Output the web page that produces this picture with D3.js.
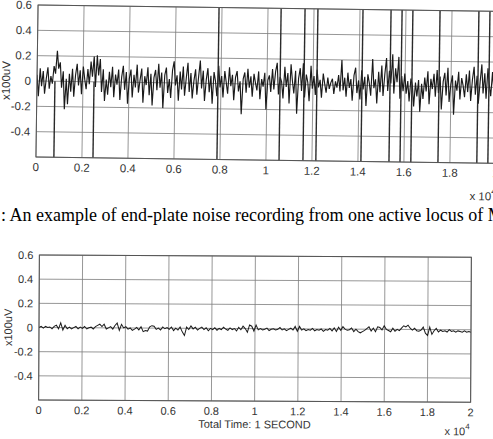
<!DOCTYPE html>
<html>
<head>
<meta charset="utf-8">
<script src="https://cdn.jsdelivr.net/npm/d3@7"></script>
<style>
  body { margin: 0; background: #fff; }
  svg { display: block; }
  text { font-family: "Liberation Sans", Arial, sans-serif; fill: #333; }
</style>
</head>
<body>
<svg id="chart" width="493" height="439"></svg>
<script>
// tick labels (x in units of 1e4 samples)
const xTicks = [0, 0.2, 0.4, 0.6, 0.8, 1, 1.2, 1.4, 1.6, 1.8, 2];
const yTicks = [-0.6, -0.4, -0.2, 0, 0.2, 0.4, 0.6];

// top recording: noise trace (x100uV), evenly spaced over 0..2 x1e4
const noiseTop = [
  0.05,-0.12,0.1,-0.04,0.08,-0.1,0.02,0.11,-0.06,0.04,-0.02,0.12,0.06,0.24,0.1,0.15,-0.05,0.08,-0.22,0.02,
  -0.18,0.06,-0.08,0.1,-0.12,0.05,0.14,-0.03,0.09,-0.1,0.12,0.02,-0.06,0.1,-0.02,0.16,0.04,0.2,-0.04,0.21,
  0.05,0.18,-0.08,0.1,-0.15,0.02,-0.1,0.08,-0.04,0.12,-0.12,0.06,-0.02,0.1,-0.14,0.04,0.13,-0.06,0.08,-0.17,
  0.03,0.1,-0.12,0.06,-0.04,0.14,-0.08,0.02,0.11,-0.16,0.05,-0.02,0.12,-0.1,0.07,-0.18,0.04,0.1,-0.06,0.15,
  -0.04,0.08,-0.2,0.06,0.12,-0.08,0.03,-0.12,0.1,0.17,-0.02,0.06,-0.14,0.09,-0.05,0.13,-0.1,0.04,0.16,-0.07,
  0.08,-0.12,0.02,0.11,-0.09,0.05,0.18,-0.04,0.1,-0.14,0.03,0.12,-0.07,0.06,-0.16,0.09,0.02,-0.1,0.14,-0.03,
  0.06,-0.11,0.1,0.01,-0.08,0.13,-0.02,0.07,-0.13,0.05,0.1,-0.06,0.02,-0.24,0.04,0.09,-0.07,0.12,-0.03,0.06,
  -0.1,0.08,0.01,-0.05,0.1,-0.12,0.04,-0.02,0.09,-0.2,0.03,0.07,-0.06,0.12,-0.04,0.1,0.17,-0.08,0.06,0.02,
  -0.11,0.14,-0.02,0.09,-0.15,0.16,0.03,-0.07,0.11,-0.23,0.05,0.13,-0.05,0.17,-0.1,0.08,0.02,-0.13,0.15,-0.03,
  0.07,-0.08,0.12,-0.02,0.04,-0.1,0.09,0.01,-0.06,0.06,-0.03,0.02,0.05,-0.07,0.03,-0.02,0.08,-0.05,0.2,-0.04,
  0.06,-0.09,0.1,-0.02,0.05,-0.12,0.08,0.14,-0.06,0.04,-0.11,0.12,-0.03,0.07,-0.16,0.09,0.02,-0.08,0.21,-0.02,
  0.05,-0.14,0.11,-0.05,0.16,-0.08,0.09,0.22,-0.04,0.12,0.02,0.25,-0.06,0.14,0.03,0.23,-0.1,0.08,-0.04,0.1,
  -0.06,0.04,-0.12,0.06,0.01,-0.16,0.03,-0.08,0.05,-0.2,0.02,-0.1,0.07,-0.04,0.12,-0.14,0.06,-0.02,0.1,-0.08,
  0.13,-0.05,0.08,-0.18,0.04,0.11,-0.07,0.15,-0.12,0.02,0.09,-0.22,0.05,-0.03,0.12,-0.1,0.07,0.01,-0.08,0.1,
  -0.04,0.13,-0.11,0.06,0.16,-0.06,0.09,-0.13,0.04,0.18,-0.05,0.11,-0.09,0.15,0.02,-0.07,0.12,-0.03,0.08,0.04
];

// top recording: large artefact spikes (position, upper and lower extent)
const spikeAt = [0.078, 0.248, 0.787, 1.057, 1.161, 1.217, 1.413, 1.535, 1.583, 1.630, 1.748, 1.917, 1.965];
const spikeHi = [0, 0, 0.9, 0.9, 0.9, 0.9, 0.9, 0.9, 0.9, 0.9, 0.9, 0.9, 0.9];
const spikeLo = [-0.9, -0.9, -0.9, -0.9, -0.9, -0.9, -0.9, -0.9, -0.9, -0.9, -0.9, -0.9, -0.9];

// bottom recording: quiet trace
const noiseBottom = [
  0,0.01,-0.005,0.01,0,0.005,-0.01,0.01,0.02,-0.01,0.04,-0.02,0.02,-0.01,0.005,-0.01,0,0.01,-0.01,0.005,
  -0.005,0.01,-0.01,0,0.005,-0.01,0.01,0.02,0.03,0.01,0.03,-0.01,0,0.01,-0.01,0.02,0.04,-0.02,0.03,0,
  0.01,-0.01,0,-0.02,-0.01,0.005,-0.015,0.01,-0.03,-0.02,-0.025,0.01,0.02,0.015,-0.01,0,-0.015,0.01,-0.005,0.005,
  -0.01,0.01,-0.02,0,-0.015,0.01,-0.03,-0.06,0.01,-0.01,0.02,-0.005,0.01,-0.015,0,0.01,-0.01,0.005,-0.02,0,
  -0.01,0.005,-0.015,0,-0.01,0.01,-0.005,-0.015,0.005,-0.01,0,-0.02,0.01,-0.01,0.02,0,-0.03,0.03,0.02,-0.02,
  0.03,-0.01,0,-0.01,-0.005,0.005,-0.015,-0.005,0,-0.01,-0.005,0.01,-0.01,0,-0.015,-0.005,0.005,-0.01,0.02,-0.02,
  0.02,-0.01,0,-0.015,-0.005,-0.01,0.005,-0.015,-0.005,-0.01,0,-0.02,-0.005,-0.01,0.005,-0.015,0.01,-0.02,0.015,-0.01,
  0.02,0,-0.01,-0.005,0.01,-0.02,0,-0.02,-0.03,-0.02,-0.01,0.005,0.02,-0.015,0.01,-0.02,0.02,0.015,-0.005,0.03,
  0,-0.01,-0.02,0.01,-0.015,0,-0.01,0.01,0.03,0.02,0.035,0.01,-0.005,0.01,-0.01,-0.015,-0.005,0.02,-0.03,-0.05,
  0.02,-0.04,-0.01,0.01,-0.02,-0.005,-0.015,-0.01,-0.02,0,-0.015,-0.01,-0.02,-0.01,-0.015,-0.02,-0.01,-0.02,-0.015,-0.02
];

const svg = d3.select("#chart");

function drawPanel(opts) {
  const { left, right, top, bottom, angle, font, trace, traceWidth, spikes, xlabel, id } = opts;

  const g = svg.append("g")
    .attr("transform", `rotate(${angle}, ${left}, ${(top + bottom) / 2})`);

  const x = d3.scaleLinear().domain([0, 2]).range([left, right]);
  const y = d3.scaleLinear().domain([-0.6, 0.6]).range([bottom, top]);

  // clip for the traces
  g.append("clipPath").attr("id", id)
    .append("rect")
    .attr("x", left).attr("y", top)
    .attr("width", right - left).attr("height", bottom - top);

  // grid
  g.append("g")
    .selectAll("line")
    .data(xTicks)
    .join("line")
    .attr("x1", d => x(d)).attr("x2", d => x(d))
    .attr("y1", top).attr("y2", bottom)
    .attr("stroke", "#7d7d7d").attr("stroke-width", 0.8);

  g.append("g")
    .selectAll("line")
    .data(yTicks)
    .join("line")
    .attr("x1", left).attr("x2", right)
    .attr("y1", d => y(d)).attr("y2", d => y(d))
    .attr("stroke", "#7d7d7d").attr("stroke-width", 0.8);

  // trace
  const line = d3.line()
    .x((d, i) => x(i * 2 / (trace.length - 1)))
    .y(d => y(d));

  const plot = g.append("g").attr("clip-path", `url(#${id})`);

  plot.append("path")
    .datum(trace)
    .attr("d", line)
    .attr("fill", "none")
    .attr("stroke", "#1a1a1a")
    .attr("stroke-width", traceWidth);

  if (spikes) {
    plot.selectAll(".spike")
      .data(spikes)
      .join("line")
      .attr("class", "spike")
      .attr("x1", d => x(d.at)).attr("x2", d => x(d.at))
      .attr("y1", d => y(d.hi)).attr("y2", d => y(d.lo))
      .attr("stroke", "#2a2a2a").attr("stroke-width", 1.4);
  }

  // frame
  g.append("rect")
    .attr("x", left).attr("y", top)
    .attr("width", right - left).attr("height", bottom - top)
    .attr("fill", "none")
    .attr("stroke", "#555").attr("stroke-width", 1);

  // tick labels
  g.append("g")
    .selectAll("text")
    .data(xTicks)
    .join("text")
    .attr("x", d => x(d))
    .attr("y", bottom + 14)
    .attr("text-anchor", "middle")
    .style("font-size", font + "px")
    .text(d => String(d));

  g.append("g")
    .selectAll("text")
    .data(yTicks.filter(d => d > -0.6))
    .join("text")
    .attr("x", left - 6)
    .attr("y", d => y(d) + 4)
    .attr("text-anchor", "end")
    .style("font-size", font + "px")
    .text(d => String(d));

  // y label
  g.append("text")
    .attr("transform", `translate(${left - 27}, ${(top + bottom) / 2}) rotate(-90)`)
    .attr("text-anchor", "middle")
    .style("font-size", font + "px")
    .text("x100uV");

  // x 10^4
  const mult = g.append("text")
    .attr("x", right - 26)
    .attr("y", bottom + (xlabel ? 33 : 37))
    .style("font-size", font + "px");
  mult.append("tspan").text("x 10");
  mult.append("tspan").attr("dy", -6).style("font-size", (font - 3) + "px").text("4");

  if (xlabel) {
    g.append("text")
      .attr("x", (left + right) / 2)
      .attr("y", bottom + 27)
      .attr("text-anchor", "middle")
      .style("font-size", font + "px")
      .text(xlabel);
  }
}

drawPanel({
  id: "clipTop",
  left: 37, right: 497, top: 5, bottom: 157,
  angle: 0.8, font: 11.5, traceWidth: 1.15,
  trace: noiseTop,
  spikes: spikeAt.map((at, i) => ({ at, hi: spikeHi[i], lo: spikeLo[i] }))
});

// caption between the panels
svg.append("text")
  .attr("x", 1)
  .attr("y", 221)
  .style("font-family", "'Liberation Serif', 'Times New Roman', serif")
  .style("font-size", "18px")
  .style("fill", "#000")
  .text(": An example of end-plate noise recording from one active locus of M");

drawPanel({
  id: "clipBottom",
  left: 39, right: 471, top: 255, bottom: 400,
  angle: 0.3, font: 11, traceWidth: 1,
  trace: noiseBottom,
  xlabel: "Total Time: 1 SECOND"
});
</script>
</body>
</html>
